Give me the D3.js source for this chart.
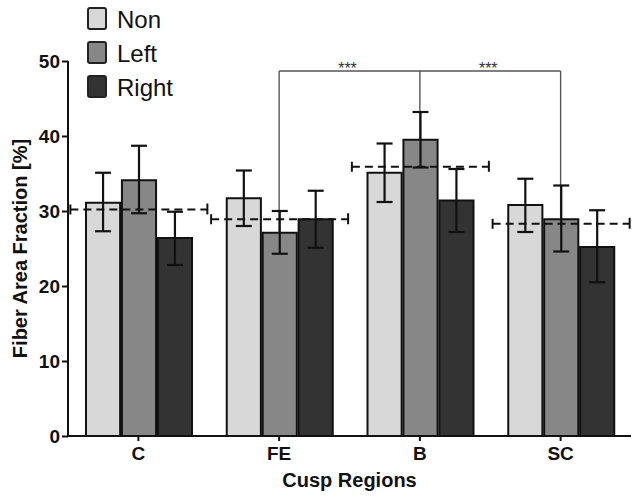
<!DOCTYPE html>
<html>
<head>
<meta charset="utf-8">
<script src="https://cdn.jsdelivr.net/npm/d3@7"></script>
<style>
body{margin:0;background:#fff;}
svg{font-family:"Liberation Sans",Arial,sans-serif;}
</style>
</head>
<body>
<div id="chart"></div>
<script>
// data
var regions=["C","FE","B","SC"];
var groups=["Non","Left","Right"];
var colors=["#d8d8d8","#878787","#333333"];
var nonVals=[31.1,31.7,35.1,30.8];
var nonLo=[27.3,28.0,31.2,27.2];
var nonHi=[35.1,35.4,39.0,34.3];
var leftVals=[34.1,27.1,39.5,28.9];
var leftLo=[29.7,24.3,35.8,24.6];
var leftHi=[38.7,30.0,43.2,33.4];
var rightVals=[26.4,28.9,31.4,25.2];
var rightLo=[22.8,25.1,27.2,20.5];
var rightHi=[29.9,32.7,35.6,30.1];
var meanVals=[30.2,28.9,35.9,28.3];
var yTicks=[0,10,20,30,40,50];
var sigFrom=["FE","SC"], sigMid="B", sigLabel="***";

var width=639,height=497;
var pLeft=68,pRight=631,pTop=61,pBottom=436;

var svg=d3.select("#chart").append("svg")
	.attr("width",width)
	.attr("height",height);

var x=d3.scaleBand().domain(regions).range([pLeft,pRight]).padding(0);
var x1=d3.scaleBand().domain(groups).range([18,124]).paddingInner(0.05);
var y=d3.scaleLinear().domain([0,50]).range([pBottom,pTop]);

var vals=[nonVals,leftVals,rightVals];
var los=[nonLo,leftLo,rightLo];
var his=[nonHi,leftHi,rightHi];

var bars=[];
regions.forEach(function(r,i){
	groups.forEach(function(g,j){
		bars.push({r:r,g:g,v:vals[j][i],lo:los[j][i],hi:his[j][i],c:colors[j]});
	});
});

// bars
svg.selectAll("rect.bar").data(bars).enter().append("rect")
	.attr("class","bar")
	.attr("x",function(d){return x(d.r)+x1(d.g);})
	.attr("y",function(d){return y(d.v);})
	.attr("width",x1.bandwidth())
	.attr("height",function(d){return y(0)-y(d.v);})
	.style("fill",function(d){return d.c;})
	.style("stroke","#111")
	.style("stroke-width",2);

// significance bracket
var bx=function(r){return x(r)+x.bandwidth()/2;};
var leftIdx=function(r){return leftVals[regions.indexOf(r)];};
var yb=71;
svg.append("line").attr("x1",bx(sigFrom[0])).attr("x2",bx(sigFrom[1]))
	.attr("y1",yb).attr("y2",yb)
	.style("stroke","#555").style("stroke-width",1.4);
[sigFrom[0],sigMid,sigFrom[1]].forEach(function(r){
	svg.append("line").attr("x1",bx(r)).attr("x2",bx(r))
		.attr("y1",yb).attr("y2",y(leftIdx(r)))
		.style("stroke","#555").style("stroke-width",1.4);
});
[[sigFrom[0],sigMid],[sigMid,sigFrom[1]]].forEach(function(p){
	svg.append("text")
		.attr("x",(bx(p[0])+bx(p[1]))/2-2)
		.attr("y",yb+3)
		.attr("text-anchor","middle")
		.style("font-size","16px")
		.style("fill","#333")
		.text(sigLabel);
});

// error bars
var eb=svg.selectAll("g.err").data(bars).enter().append("g").attr("class","err");
var cx=function(d){return x(d.r)+x1(d.g)+x1.bandwidth()/2;};
eb.append("line")
	.attr("x1",cx).attr("x2",cx)
	.attr("y1",function(d){return y(d.lo);})
	.attr("y2",function(d){return y(d.hi);})
	.style("stroke","#111").style("stroke-width",2.2);
eb.append("line")
	.attr("x1",function(d){return cx(d)-8;}).attr("x2",function(d){return cx(d)+8;})
	.attr("y1",function(d){return y(d.hi);}).attr("y2",function(d){return y(d.hi);})
	.style("stroke","#111").style("stroke-width",2.2);
eb.append("line")
	.attr("x1",function(d){return cx(d)-8;}).attr("x2",function(d){return cx(d)+8;})
	.attr("y1",function(d){return y(d.lo);}).attr("y2",function(d){return y(d.lo);})
	.style("stroke","#111").style("stroke-width",2.2);

// group mean dashed lines
var means=regions.map(function(r,i){return {r:r,v:meanVals[i]};});
var mg=svg.selectAll("g.mean").data(means).enter().append("g").attr("class","mean");
mg.append("line")
	.attr("x1",function(d){return bx(d.r)-68;})
	.attr("x2",function(d){return bx(d.r)+69;})
	.attr("y1",function(d){return y(d.v);}).attr("y2",function(d){return y(d.v);})
	.style("stroke","#111").style("stroke-width",2)
	.style("stroke-dasharray","8,5");
mg.append("line")
	.attr("x1",function(d){return bx(d.r)-68;}).attr("x2",function(d){return bx(d.r)-68;})
	.attr("y1",function(d){return y(d.v)-5;}).attr("y2",function(d){return y(d.v)+5;})
	.style("stroke","#111").style("stroke-width",2);
mg.append("line")
	.attr("x1",function(d){return bx(d.r)+69;}).attr("x2",function(d){return bx(d.r)+69;})
	.attr("y1",function(d){return y(d.v)-6;}).attr("y2",function(d){return y(d.v)+5;})
	.style("stroke","#111").style("stroke-width",2);

// axes
var yAxis=svg.append("g").attr("transform","translate("+pLeft+",0)")
	.call(d3.axisLeft(y).tickValues(yTicks).tickSize(6).tickPadding(2));
var xAxis=svg.append("g").attr("transform","translate(0,"+pBottom+")")
	.call(d3.axisBottom(x).tickSize(5).tickPadding(6));
[yAxis,xAxis].forEach(function(a){
	a.select(".domain").style("stroke","#111").style("stroke-width",2);
	a.selectAll(".tick line").style("stroke","#111").style("stroke-width",2);
	a.selectAll("text").style("font-size","19px").style("font-weight","bold")
		.style("fill","#111").style("font-family","'Liberation Sans',Arial,sans-serif");
});
yAxis.select(".domain").attr("d","M0,"+pTop+"V"+pBottom);
xAxis.select(".domain").attr("d","M"+pLeft+",0H"+pRight);

svg.append("text")
	.attr("x",(pLeft+pRight)/2).attr("y",487)
	.attr("text-anchor","middle")
	.style("font-size","20px").style("font-weight","bold").style("fill","#111")
	.text("Cusp Regions");
svg.append("text")
	.attr("transform","translate(27,"+((pTop+pBottom)/2)+") rotate(-90)")
	.attr("text-anchor","middle")
	.style("font-size","20px").style("font-weight","bold").style("fill","#111")
	.text("Fiber Area Fraction [%]");

// legend
var lg=svg.selectAll("g.legend").data(groups).enter().append("g")
	.attr("class","legend")
	.attr("transform",function(d,i){return "translate(88,"+(8+i*34)+")";});
lg.append("rect")
	.attr("width",18).attr("height",21).attr("rx",2)
	.style("fill",function(d,i){return colors[i];})
	.style("stroke","#222").style("stroke-width",2);
lg.append("text")
	.attr("x",29).attr("y",20)
	.style("font-size","24px").style("fill","#111")
	.text(function(d){return d;});
</script>
</body>
</html>
